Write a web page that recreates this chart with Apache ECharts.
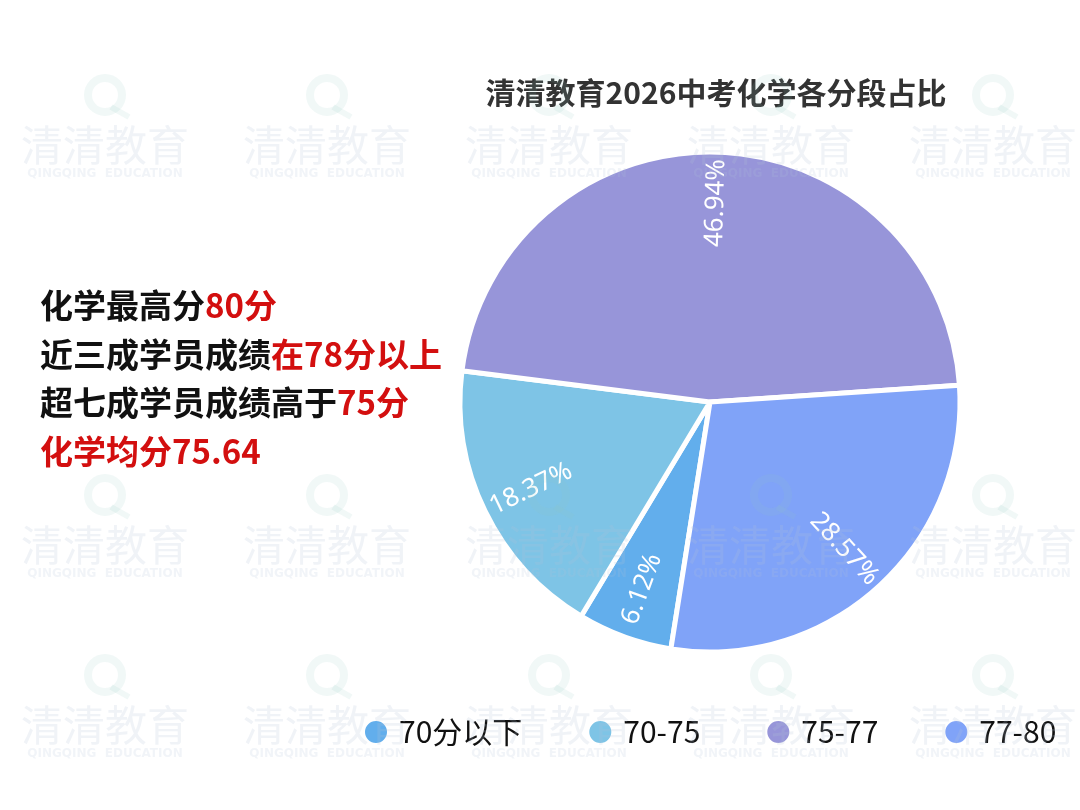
<!DOCTYPE html>
<html>
<head>
<meta charset="utf-8">
<script src="https://cdn.jsdelivr.net/npm/echarts@6/dist/echarts.min.js"></script>
<style>
  html, body { margin: 0; padding: 0; background: #fff; }
  #main { width: 1080px; height: 810px; }
</style>
</head>
<body>
<div id="main"></div>
<script>
// 分段数据（单位：%）
const categories = ['70分以下', '70-75', '75-77', '77-80']
const percents = [6.12, 18.37, 46.94, 28.57]
const colors = ['#62aeec', '#7ec4e6', '#9795d9', '#80a3f8']

const titleText = '清清教育2026中考化学各分段占比'

// 左侧说明文字，每行分成 [黑色部分, 红色部分]
const notes = [
  ['化学最高分', '80分'],
  ['近三成学员成绩', '在78分以上'],
  ['超七成学员成绩高于', '75分'],
  ['', '化学均分75.64']
]

// 水印网格
const wmCols = [105, 327, 549, 771, 993]
const wmRows = [145, 545, 725]

const chart = echarts.init(document.getElementById('main'))

const pieData = categories.map((name, i) => ({
  name: name,
  value: percents[i],
  itemStyle: { color: colors[i] }
}))

const CX = 710, CY = 402, R = 250

// 水印
const watermarks = []
wmRows.forEach(y => {
  wmCols.forEach(x => {
    watermarks.push({
      type: 'circle', silent: true, z: 100,
      shape: { cx: x, cy: y - 50, r: 17 },
      style: { fill: 'none', stroke: 'rgba(150,200,195,0.13)', lineWidth: 8 }
    })
    watermarks.push({
      type: 'line', silent: true, z: 100,
      shape: { x1: x + 6, y1: y - 38, x2: x + 24, y2: y - 28 },
      style: { stroke: 'rgba(150,200,195,0.13)', lineWidth: 6 }
    })
    watermarks.push({
      type: 'text', silent: true, z: 100,
      x: x, y: y,
      style: {
        text: '清清教育', fill: 'rgba(180,195,215,0.2)',
        font: '42px "Noto Sans CJK SC"', align: 'center', verticalAlign: 'middle'
      }
    })
    watermarks.push({
      type: 'text', silent: true, z: 100,
      x: x, y: y + 29,
      style: {
        text: 'QINGQING  EDUCATION', fill: 'rgba(180,195,215,0.18)',
        font: 'bold 12px "DejaVu Sans"', align: 'center', verticalAlign: 'middle'
      }
    })
  })
})

// 左侧文字
const noteTexts = notes.map((line, i) => ({
  type: 'text', z: 50,
  left: 40, top: 310 + i * 48.5 - 21,
  style: {
    text: (line[0] ? '{k|' + line[0] + '}' : '') + '{r|' + line[1] + '}',
    rich: {
      k: { fill: '#111', font: 'bold 33px "Noto Sans CJK SC"' },
      r: { fill: '#d30f0f', font: 'bold 33px "Noto Sans CJK SC"' }
    }
  }
}))

chart.setOption({
  backgroundColor: '#fff',
  animation: false,
  title: {
    text: titleText,
    left: 711, top: 73, textAlign: 'center',
    textStyle: { color: '#333', fontSize: 30, fontWeight: 'bold', fontFamily: 'Noto Sans CJK SC' }
  },
  legend: {
    data: categories,
    left: 358, top: 712,
    icon: 'circle',
    itemWidth: 24, itemHeight: 24,
    itemGap: 65,
    textStyle: { color: '#111', fontSize: 30, fontFamily: 'Noto Sans CJK SC', padding: [0, 0, 0, 6] }
  },
  series: [
    {
      type: 'pie',
      center: [CX, CY],
      radius: [0, R],
      startAngle: 261,
      clockwise: true,
      data: pieData,
      itemStyle: { borderColor: '#fff', borderWidth: 5 },
      label: { show: false },
      labelLine: { show: false },
      emphasis: { disabled: true }
    },
    {
      // 透明层，只用来把百分比标签放到外侧
      type: 'pie',
      center: [CX, CY],
      radius: [142, R],
      startAngle: 261,
      clockwise: true,
      silent: true,
      z: 3,
      legendHoverLink: false,
      data: pieData.map(d => ({ name: d.name, value: d.value, itemStyle: { color: 'rgba(0,0,0,0)' } })),
      itemStyle: { borderWidth: 0 },
      label: {
        show: true,
        position: 'inside',
        rotate: 'radial',
        formatter: '{c}%',
        color: '#fff',
        fontSize: 26,
        fontFamily: 'Noto Sans'
      },
      labelLine: { show: false },
      emphasis: { disabled: true }
    }
  ],
  graphic: noteTexts.concat(watermarks)
})
</script>
</body>
</html>
